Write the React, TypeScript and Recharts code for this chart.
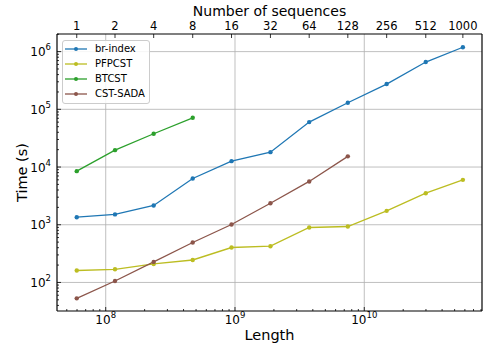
import { Label, Legend, Line, LineChart, ReferenceLine, XAxis, YAxis } from "recharts";

const FONT = "'DejaVu Sans', sans-serif";

// bottom axis: total length, top axis: number of sequences at those lengths
const lengths = [5.97e7, 1.18e8, 2.35e8, 4.71e8, 9.4e8, 1.88e9, 3.75e9, 7.46e9, 1.49e10, 2.99e10, 5.79e10];
const sequenceLabels = ["1", "2", "4", "8", "16", "32", "64", "128", "256", "512", "1000"];

// times in seconds
const brIndex = [1350, 1510, 2160, 6340, 12650, 18100, 60100, 130000, 274000, 660000, 1190000];
const pfpcst = [161, 169, 209, 245, 403, 425, 896, 932, 1740, 3520, 6000];
const btcst = [8490, 19600, 37700, 71300];
const cstSada = [53, 106, 227, 492, 1010, 2360, 5630, 15300];

const xDecades = [1e8, 1e9, 1e10];
const yDecades = [1e2, 1e3, 1e4, 1e5, 1e6];
const minorSteps = [2, 3, 4, 5, 6, 7, 8, 9];

const X_MIN = 4.2e7;
const X_MAX = 8.14e10;
const Y_MIN = 32;
const Y_MAX = 2.02e6;

const series = [
  { key: "brIndex", name: "br-index", color: "#1f77b4" },
  { key: "pfpcst", name: "PFPCST", color: "#bcbd22" },
  { key: "btcst", name: "BTCST", color: "#2ca02c" },
  { key: "cstSada", name: "CST-SADA", color: "#8c564b" },
];

const rows = lengths.map((length, i) => ({
  length,
  brIndex: brIndex[i] ?? null,
  pfpcst: pfpcst[i] ?? null,
  btcst: btcst[i] ?? null,
  cstSada: cstSada[i] ?? null,
}));

const withMinors = (decades: number[], lo: number, hi: number) =>
  [decades[0] / 10, ...decades]
    .flatMap((d) => [d, ...minorSteps.map((m) => m * d)])
    .filter((v) => v > lo && v < hi)
    .sort((a, b) => a - b);

const xTicks = withMinors(xDecades, X_MIN, X_MAX);
const yTicks = withMinors(yDecades, Y_MIN, Y_MAX);

const exponent = (v: number) => Math.round(Math.log10(v));
const isDecade = (v: number) => Math.abs(Math.log10(v) - exponent(v)) < 1e-9;

function BottomTick({ x, y, payload }: any) {
  const v = payload.value;
  const major = isDecade(v);
  return (
    <g>
      <line x1={x} x2={x} y1={y} y2={y - (major ? 4 : 2)} stroke="#000" strokeWidth={0.8} />
      {major && (
        <text x={x} y={y + 12.5} textAnchor="middle" fontSize={12} fontFamily={FONT} fill="#000">
          10<tspan dy={-6} fontSize={8.5}>{exponent(v)}</tspan>
        </text>
      )}
    </g>
  );
}

function TopTick({ x, y, payload }: any) {
  const label = sequenceLabels[lengths.indexOf(payload.value)];
  return (
    <g>
      <line x1={x} x2={x} y1={y} y2={y + 4} stroke="#000" strokeWidth={0.8} />
      <text x={x} y={y - 4.3} textAnchor="middle" fontSize={11.5} fontFamily={FONT} fill="#000">
        {label}
      </text>
    </g>
  );
}

function LeftTick({ x, y, payload }: any) {
  const v = payload.value;
  const major = isDecade(v);
  return (
    <g>
      <line x1={x} x2={x + (major ? 4 : 2)} y1={y} y2={y} stroke="#000" strokeWidth={0.8} />
      {major && (
        <text x={x - 6} y={y + 4.5} textAnchor="end" fontSize={12} fontFamily={FONT} fill="#000">
          10<tspan dy={-6} fontSize={8.5}>{exponent(v)}</tspan>
        </text>
      )}
    </g>
  );
}

function LegendBox() {
  return (
    <div
      style={{
        border: "1px solid #cccccc",
        borderRadius: 3,
        background: "rgba(255,255,255,0.85)",
        padding: "0 4px 2px 2px",
        fontFamily: FONT,
        fontSize: 10,
        color: "#000",
      }}
    >
      {series.map((s) => (
        <div key={s.key} style={{ display: "flex", alignItems: "center", height: 15 }}>
          <svg width={22} height={6} style={{ marginRight: 8 }}>
            <line x1={0} x2={22} y1={3} y2={3} stroke={s.color} strokeWidth={1.3} />
            <circle cx={11} cy={3} r={2} fill={s.color} />
          </svg>
          <span>{s.name}</span>
        </div>
      ))}
    </div>
  );
}

export default function App() {
  return (
    <div style={{ position: "absolute", left: 0, top: 0, width: 484, height: 345, background: "#fff" }}>
      <LineChart width={484} height={345} data={rows} margin={{ top: 0, right: 2, bottom: 0, left: 0 }}>
        <XAxis
          xAxisId="bottom"
          dataKey="length"
          type="number"
          scale="log"
          domain={[X_MIN, X_MAX]}
          allowDataOverflow
          ticks={xTicks}
          interval={0}
          tick={<BottomTick />}
          tickSize={0}
          tickMargin={0}
          tickLine={false}
          height={34}
          axisLine={{ stroke: "#000", strokeWidth: 1.2 }}
        >
          <Label
            content={({ viewBox }: any) => (
              <text x={viewBox.x + viewBox.width / 2} y={viewBox.y + 28.5} textAnchor="middle" fontSize={14.5} fontFamily={FONT} fill="#000">
                Length
              </text>
            )}
          />
        </XAxis>
        <XAxis
          xAxisId="top"
          orientation="top"
          dataKey="length"
          type="number"
          scale="log"
          domain={[X_MIN, X_MAX]}
          allowDataOverflow
          ticks={lengths}
          interval={0}
          tick={<TopTick />}
          tickSize={0}
          tickMargin={0}
          tickLine={false}
          height={34}
          axisLine={{ stroke: "#000", strokeWidth: 1.2 }}
        >
          <Label
            content={({ viewBox }: any) => (
              <text x={viewBox.x + viewBox.width / 2} y={15.5} textAnchor="middle" fontSize={14} fontFamily={FONT} fill="#000">
                Number of sequences
              </text>
            )}
          />
        </XAxis>
        <YAxis
          yAxisId="left"
          type="number"
          scale="log"
          domain={[Y_MIN, Y_MAX]}
          allowDataOverflow
          ticks={yTicks}
          interval={0}
          tick={<LeftTick />}
          tickSize={0}
          tickMargin={0}
          tickLine={false}
          width={57}
          axisLine={{ stroke: "#000", strokeWidth: 1.2 }}
        >
          <Label
            content={({ viewBox }: any) => {
              const cy = viewBox.y + viewBox.height / 2;
              return (
                <text x={27} y={cy} transform={`rotate(-90, 27, ${cy})`} textAnchor="middle" fontSize={14.5} fontFamily={FONT} fill="#000">
                  Time (s)
                </text>
              );
            }}
          />
        </YAxis>

        {xDecades.map((v) => (
          <ReferenceLine key={`gx${v}`} xAxisId="bottom" yAxisId="left" x={v} stroke="#b0b0b0" strokeWidth={0.8} />
        ))}
        {yDecades.map((v) => (
          <ReferenceLine key={`gy${v}`} xAxisId="bottom" yAxisId="left" y={v} stroke="#b0b0b0" strokeWidth={0.8} />
        ))}
        <ReferenceLine xAxisId="bottom" yAxisId="left" x={X_MAX} stroke="#000" strokeWidth={1.2} />

        {series.map((s) => (
          <Line
            key={s.key}
            xAxisId="bottom"
            yAxisId="left"
            type="linear"
            dataKey={s.key}
            name={s.name}
            stroke={s.color}
            strokeWidth={1.3}
            dot={{ r: 2.2, fill: s.color, stroke: s.color, strokeWidth: 0 }}
            activeDot={false}
            isAnimationActive={false}
          />
        ))}

        <Legend
          layout="vertical"
          align="center"
          verticalAlign="middle"
          wrapperStyle={{ left: 62, top: 40, width: 88 }}
          content={() => <LegendBox />}
        />
      </LineChart>
    </div>
  );
}
